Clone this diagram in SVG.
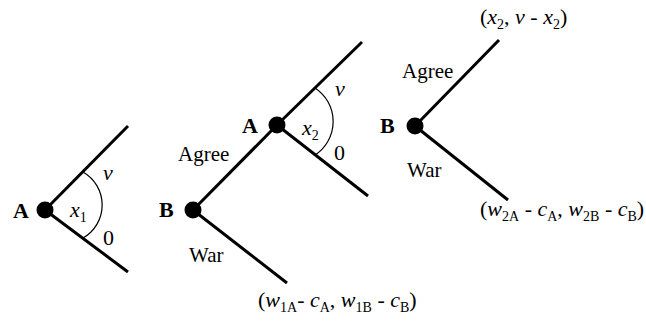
<svg xmlns="http://www.w3.org/2000/svg" width="646" height="321" viewBox="0 0 646 321">
<style>
.edge{stroke:#000;stroke-width:3;fill:none;stroke-linecap:butt}
.arc{stroke:#000;stroke-width:1.2;fill:none}
.dot{fill:#000}
.nl{font-family:"Liberation Serif",serif;font-weight:bold;font-size:22px;fill:#000}
.lb{font-family:"Liberation Serif",serif;font-size:21px;fill:#000}
.m{font-family:"Liberation Serif",serif;font-size:22px;fill:#000}
.i{font-style:italic}
.s{font-size:14px;font-style:normal}
</style>
<rect width="646" height="321" fill="#fff"/>
<g id="connectors">
<line class="edge" x1="45" y1="210" x2="128" y2="126"/>
<line class="edge" x1="45" y1="210" x2="128" y2="272"/>
<line class="edge" x1="193" y1="210" x2="277" y2="125"/>
<line class="edge" x1="193" y1="210" x2="287" y2="283"/>
<line class="edge" x1="277" y1="125" x2="362" y2="42"/>
<line class="edge" x1="277" y1="125" x2="368" y2="196"/>
<line class="edge" x1="415" y1="126" x2="499" y2="40"/>
<line class="edge" x1="415" y1="126" x2="508" y2="200"/>
<path class="arc" d="M83,172 A38,38 0 0 1 83,238"/>
<path class="arc" d="M315,88 A40,40 0 0 1 315,155"/>
</g>
<g id="nodeA1">
<circle class="dot" cx="45" cy="210" r="8.5"/>
<text class="nl" x="13" y="218">A</text>
<text class="m i" x="103" y="180">v</text>
<text class="m i" x="70" y="217">x<tspan class="s" dy="5">1</tspan></text>
<text class="m" x="103" y="245">0</text>
</g>
<g id="nodeB2">
<circle class="dot" cx="193" cy="210" r="8.5"/>
<text class="nl" x="159" y="217">B</text>
<text class="lb" x="178" y="161">Agree</text>
<text class="lb" x="189" y="262">War</text>
</g>
<g id="nodeA2">
<circle class="dot" cx="277" cy="125" r="8.5"/>
<text class="nl" x="242" y="133">A</text>
<text class="m i" x="335" y="96">v</text>
<text class="m i" x="302" y="135">x<tspan class="s" dy="5">2</tspan></text>
<text class="m" x="334" y="160">0</text>
</g>
<g id="nodeB3">
<circle class="dot" cx="415" cy="126" r="8.5"/>
<text class="nl" x="380" y="133">B</text>
<text class="lb" x="402" y="78">Agree</text>
<text class="lb" x="407" y="177">War</text>
</g>
<g id="payoff1">
<text class="m" x="258" y="307">(<tspan class="i">w</tspan><tspan class="s" dy="5">1A</tspan><tspan dy="-5">- </tspan><tspan class="i">c</tspan><tspan class="s" dy="5">A</tspan><tspan dy="-5">, </tspan><tspan class="i">w</tspan><tspan class="s" dy="5">1B</tspan><tspan dy="-5"> - </tspan><tspan class="i">c</tspan><tspan class="s" dy="5">B</tspan><tspan dy="-5">)</tspan></text>
</g>
<g id="payoff2">
<text class="m" x="480" y="216">(<tspan class="i">w</tspan><tspan class="s" dy="5">2A</tspan><tspan dy="-5"> - </tspan><tspan class="i">c</tspan><tspan class="s" dy="5">A</tspan><tspan dy="-5">, </tspan><tspan class="i">w</tspan><tspan class="s" dy="5">2B</tspan><tspan dy="-5"> - </tspan><tspan class="i">c</tspan><tspan class="s" dy="5">B</tspan><tspan dy="-5">)</tspan></text>
</g>
<g id="payoff3">
<text class="m" x="480" y="24">(<tspan class="i">x</tspan><tspan class="s" dy="5">2</tspan><tspan dy="-5">, </tspan><tspan class="i">v</tspan> - <tspan class="i">x</tspan><tspan class="s" dy="5">2</tspan><tspan dy="-5">)</tspan></text>
</g>
</svg>
